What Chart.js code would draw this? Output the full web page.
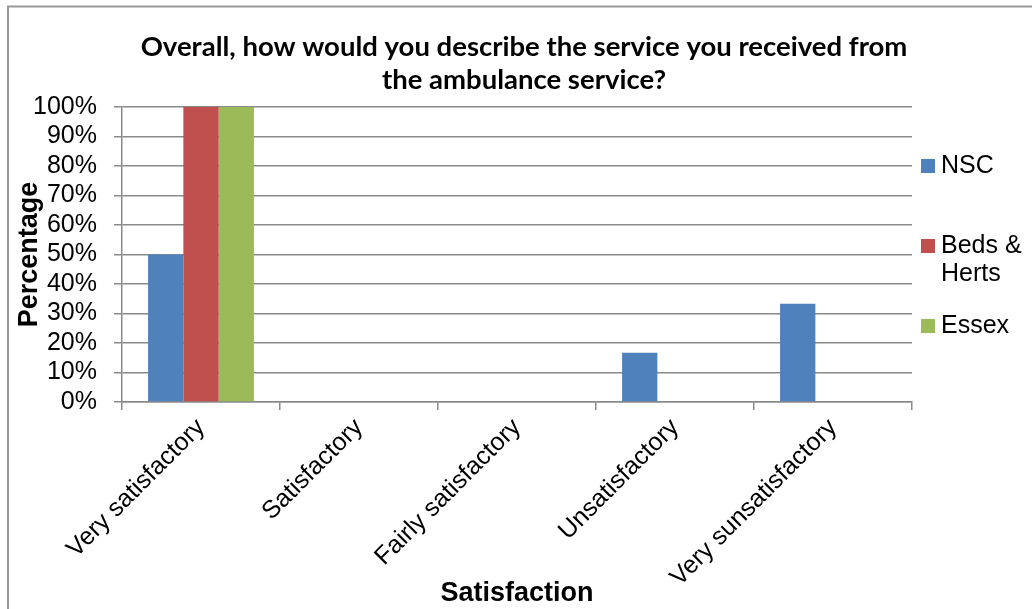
<!DOCTYPE html>
<html>
<head>
<meta charset="utf-8">
<title>Ambulance service satisfaction</title>
<script src="https://cdn.jsdelivr.net/npm/chart.js@4/dist/chart.umd.min.js"></script>
<style>
  html, body { margin: 0; padding: 0; background: #fff; }
  #wrap { position: relative; width: 1032px; height: 609px; }
  canvas { display: block; }
</style>
</head>
<body>
<div id="wrap"><canvas id="myChart" width="1032" height="609"></canvas></div>
<script>
// Chart data
const categories = ['Very satisfactory', 'Satisfactory', 'Fairly satisfactory', 'Unsatisfactory', 'Very sunsatisfactory'];
const seriesNames = ['NSC', 'Beds & Herts', 'Essex'];
const nscValues = [50, 0, 0, 16.7, 33.3];
const bedsHertsValues = [100, 0, 0, 0, 0];
const essexValues = [100, 0, 0, 0, 0];
const titleLines = ['Overall, how would you describe the service you received from', 'the ambulance service?'];
const yAxisTitle = 'Percentage';
const xAxisTitle = 'Satisfaction';

const seriesColors = ['#4F81BD', '#C0504D', '#9BBB59'];
const gridColor = '#8a8a8a';
const fontFamily = '"Liberation Sans", Arial, sans-serif';

// Frame, title and legend are drawn by hand to match the original layout
const decorPlugin = {
  id: 'decor',
  beforeDraw(chart) {
    const ctx = chart.ctx;
    ctx.save();
    ctx.strokeStyle = '#9a9a9a';
    ctx.lineWidth = 2;
    ctx.beginPath();
    ctx.moveTo(8, chart.height);
    ctx.lineTo(8, 6.5);
    ctx.lineTo(chart.width, 6.5);
    ctx.stroke();
    ctx.restore();
  },
  afterDraw(chart) {
    const ctx = chart.ctx;
    ctx.save();

    // title
    ctx.fillStyle = '#000';
    ctx.font = 'bold 27.5px Lato, "Open Sans", sans-serif';
    ctx.textAlign = 'center';
    ctx.textBaseline = 'middle';
    titleLines.forEach((line, i) => {
      ctx.fillText(line, 524, 47 + i * 33);
    });

    // legend
    const legendTops = [152, 232, 312];
    const legendX = 921;
    const textX = 941;
    const lineHeight = 28;
    ctx.font = '25px ' + fontFamily;
    ctx.textAlign = 'left';
    chart.data.datasets.forEach((ds, i) => {
      const lines = wrapText(ctx, ds.label, chart.width - textX - 4);
      const top = legendTops[i];
      ctx.fillStyle = ds.backgroundColor;
      ctx.fillRect(legendX, top + 7, 14, 14);
      ctx.fillStyle = '#000';
      lines.forEach((l, j) => ctx.fillText(l, textX, top + 14 + j * lineHeight));
    });
    ctx.restore();
  }
};

function wrapText(ctx, text, maxWidth) {
  const words = text.split(' ');
  const lines = [];
  let current = '';
  words.forEach(w => {
    const test = current ? current + ' ' + w : w;
    if (ctx.measureText(test).width > maxWidth && current) {
      lines.push(current);
      current = w;
    } else {
      current = test;
    }
  });
  if (current) lines.push(current);
  return lines;
}

const ctx = document.getElementById('myChart').getContext('2d');
new Chart(ctx, {
  type: 'bar',
  data: {
    labels: categories,
    datasets: [nscValues, bedsHertsValues, essexValues].map((values, i) => ({
      label: seriesNames[i],
      data: values,
      backgroundColor: seriesColors[i],
      borderWidth: 0,
      categoryPercentage: 0.67,
      barPercentage: 1.0
    }))
  },
  options: {
    responsive: false,
    animation: false,
    layout: { padding: { top: 107, right: 120, left: 0, bottom: 0 } },
    plugins: {
      legend: { display: false },
      title: { display: false },
      tooltip: { enabled: false }
    },
    scales: {
      x: {
        afterFit: scale => { scale.height = 207; },
        grid: {
          offset: true,
          drawOnChartArea: false,
          color: gridColor,
          lineWidth: 1.5,
          tickLength: 8
        },
        border: { color: gridColor, width: 1.5 },
        ticks: {
          autoSkip: false,
          minRotation: 45,
          maxRotation: 45,
          padding: 3,
          color: '#000',
          font: { family: fontFamily, size: 25 }
        },
        title: {
          display: true,
          text: xAxisTitle,
          color: '#000',
          font: { family: fontFamily, size: 27, weight: 'bold', lineHeight: 1 },
          padding: { top: 0, bottom: 2 }
        }
      },
      y: {
        min: 0,
        max: 100,
        afterFit: scale => { scale.width = 122; },
        grid: {
          color: gridColor,
          lineWidth: 1.5,
          tickLength: 8
        },
        border: { color: gridColor, width: 1.5 },
        ticks: {
          stepSize: 10,
          autoSkip: false,
          padding: 17,
          color: '#000',
          font: { family: fontFamily, size: 25 },
          callback: value => value + '%'
        },
        title: {
          display: true,
          text: yAxisTitle,
          color: '#000',
          font: { family: fontFamily, size: 27, weight: 'bold', lineHeight: 1 },
          padding: { top: 16, bottom: 0 }
        }
      }
    }
  },
  plugins: [decorPlugin]
});
</script>
</body>
</html>
